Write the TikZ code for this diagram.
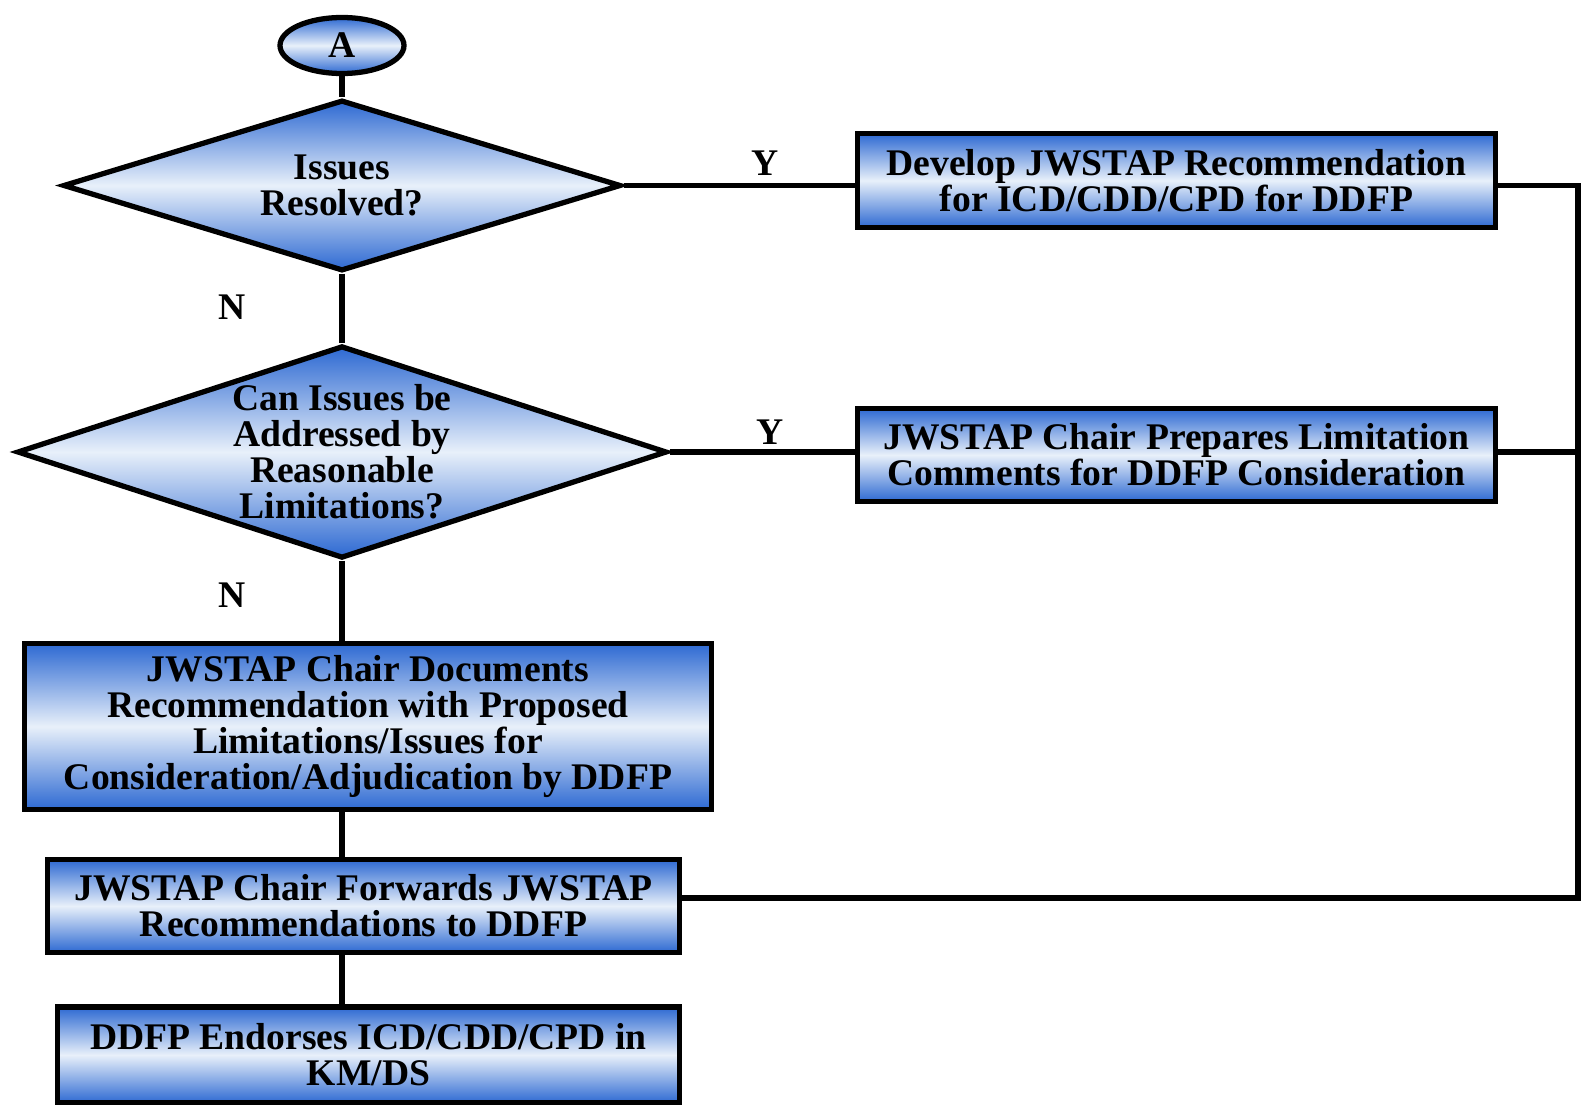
\documentclass[tikz,border=0pt]{standalone}
\usepackage{fontspec}
\setmainfont{Liberation Serif}
\usetikzlibrary{shapes.geometric}
\definecolor{flowblue}{RGB}{45,105,210}
\definecolor{flowpale}{RGB}{232,240,250}
\newcommand{\flowfont}{\bfseries\fontsize{21.4}{20.5}\selectfont}
\tikzset{
every picture/.style={
line width=3pt
}}
\tikzset{
shaded/.style={draw=black, top color=flowblue, bottom color=flowblue, middle color=flowpale},
process/.style={shaded, rectangle, align=center, inner sep=0pt, font=\flowfont},
decision/.style={shaded, diamond, inner sep=0pt},
terminal/.style={shaded, ellipse, inner sep=0pt, font=\flowfont},
branch/.style={font=\flowfont, inner sep=0pt},
}

\begin{document}
\begin{tikzpicture}
\useasboundingbox (0,0) rectangle (31.62,-22.08);
% left column
\node [terminal, minimum width=2.48cm, minimum height=1.12cm] (a) at (6.84,-0.91) {A};
\node [decision, minimum width=11.16cm, minimum height=3.42cm,
  label={[font=\flowfont, align=center]center:{Issues\\Resolved?}}] (d1) at (6.84,-3.71) {};
\node [decision, minimum width=13.0cm, minimum height=4.25cm,
  label={[font=\flowfont, align=center]center:{Can Issues be\\Addressed by\\Reasonable\\Limitations?}}] (d2) at (6.84,-9.04) {};
\node [process, minimum width=13.74cm, minimum height=3.32cm] (docs) at (7.36,-14.53)
  {JWSTAP Chair Documents\\Recommendation with Proposed\\Limitations/Issues for\\Consideration/Adjudication by DDFP};
\node [process, minimum width=12.64cm, minimum height=1.86cm] (fwd) at (7.27,-18.12)
  {JWSTAP Chair Forwards JWSTAP\\Recommendations to DDFP};
\node [process, minimum width=12.44cm, minimum height=1.92cm] (endorse) at (7.37,-21.1)
  {DDFP Endorses ICD/CDD/CPD in\\KM/DS};
% right column
\node [process, minimum width=12.76cm, minimum height=1.88cm] (dev) at (23.53,-3.61)
  {Develop JWSTAP Recommendation\\for ICD/CDD/CPD for DDFP};
\node [process, minimum width=12.76cm, minimum height=1.86cm] (lim) at (23.53,-9.1)
  {JWSTAP Chair Prepares Limitation\\Comments for DDFP Consideration};
\coordinate (rt) at (31.56,-17.96);
% spine
\draw (a.south) -- (d1.north);
\draw (d1.south) -- (d2.north);
\draw (d2.south) -- (d2.south |- docs.north);
\draw (d2.south |- docs.south) -- (d2.south |- fwd.north);
\draw (d2.south |- fwd.south) -- (d2.south |- endorse.north);
% branches
\draw (d1.east) -- (d1.east -| dev.west);
\draw (d2.east) -- (d2.east -| lim.west);
\draw (dev.east |- d1.east) -| (rt) -- (rt -| fwd.east);
\draw (lim.east |- d2.east) -- (d2.east -| rt);
% Y / N
\node [branch] (y1) at (15.3,-3.26) {Y};
\node [branch] (y2) at (15.4,-8.64) {Y};
\node [branch] (n1) at (4.64,-6.14) {N};
\node [branch] (n2) at (4.64,-11.9) {N};
\end{tikzpicture}
\end{document}
